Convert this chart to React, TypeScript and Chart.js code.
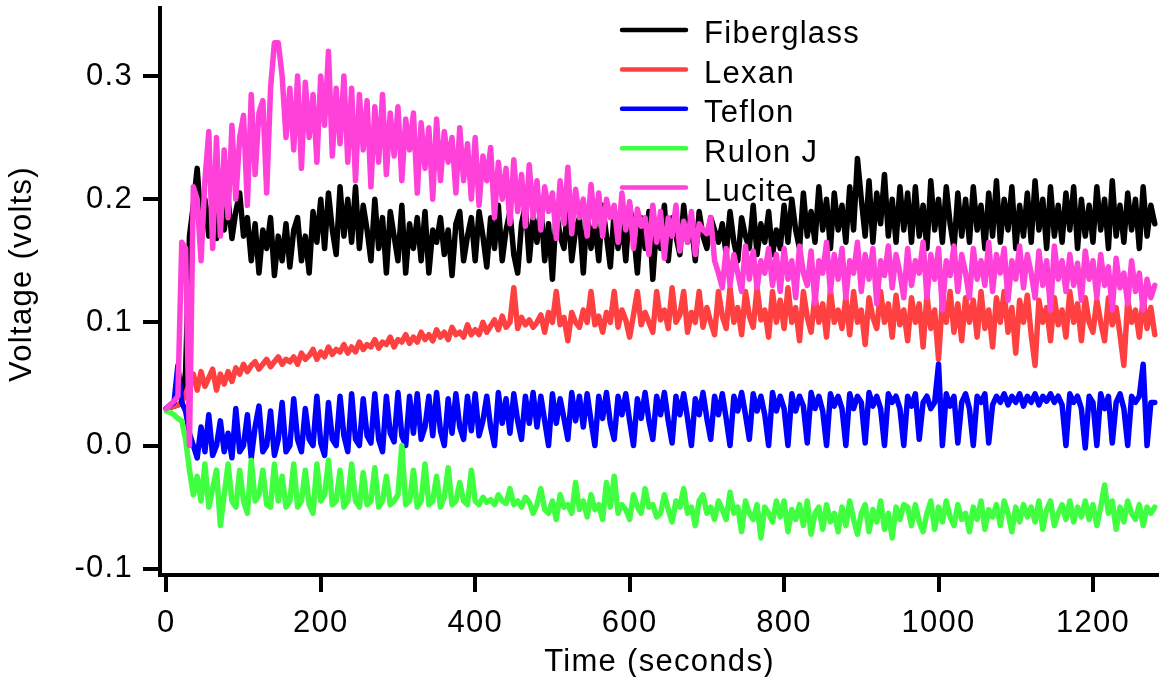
import React, { useEffect, useRef } from "react";
import { Chart, registerables } from "chart.js";

Chart.register(...registerables);

// Time samples (seconds), 16 per row
const TIME_S = [
  0, 5, 10, 15, 20, 25, 30, 35, 40, 45, 50, 55, 60, 65, 70, 75,
  80, 85, 90, 95, 100, 105, 110, 115, 120, 125, 130, 135, 140, 145, 150, 155,
  160, 165, 170, 175, 180, 185, 190, 195, 200, 205, 210, 215, 220, 225, 230, 235,
  240, 245, 250, 255, 260, 265, 270, 275, 280, 285, 290, 295, 300, 305, 310, 315,
  320, 325, 330, 335, 340, 345, 350, 355, 360, 365, 370, 375, 380, 385, 390, 395,
  400, 405, 410, 415, 420, 425, 430, 435, 440, 445, 450, 455, 460, 465, 470, 475,
  480, 485, 490, 495, 500, 505, 510, 515, 520, 525, 530, 535, 540, 545, 550, 555,
  560, 565, 570, 575, 580, 585, 590, 595, 600, 605, 610, 615, 620, 625, 630, 635,
  640, 645, 650, 655, 660, 665, 670, 675, 680, 685, 690, 695, 700, 705, 710, 715,
  720, 725, 730, 735, 740, 745, 750, 755, 760, 765, 770, 775, 780, 785, 790, 795,
  800, 805, 810, 815, 820, 825, 830, 835, 840, 845, 850, 855, 860, 865, 870, 875,
  880, 885, 890, 895, 900, 905, 910, 915, 920, 925, 930, 935, 940, 945, 950, 955,
  960, 965, 970, 975, 980, 985, 990, 995, 1000, 1005, 1010, 1015, 1020, 1025, 1030, 1035,
  1040, 1045, 1050, 1055, 1060, 1065, 1070, 1075, 1080, 1085, 1090, 1095, 1100, 1105, 1110, 1115,
  1120, 1125, 1130, 1135, 1140, 1145, 1150, 1155, 1160, 1165, 1170, 1175, 1180, 1185, 1190, 1195,
  1200, 1205, 1210, 1215, 1220, 1225, 1230, 1235, 1240, 1245, 1250, 1255, 1260, 1265, 1270, 1275,
  1280,
];

// Series values in millivolts
const FIBERGLASS_MV = [
  30, 31, 32, 33, 34, 60, 170, 195, 225, 180, 200, 170, 205, 168, 195, 175,
  200, 168, 190, 205, 170, 185, 150, 180, 140, 175, 160, 185, 138, 170, 150, 180,
  145, 175, 185, 150, 170, 140, 190, 165, 200, 160, 205, 175, 155, 210, 170, 200,
  165, 210, 160, 195, 175, 150, 200, 160, 185, 140, 190, 170, 150, 195, 140, 180,
  160, 185, 150, 190, 140, 175, 165, 185, 155, 175, 138, 180, 190, 150, 170, 185,
  150, 190, 170, 145, 185, 160, 195, 150, 175, 190, 155, 140, 180, 195, 150, 185,
  165, 195, 150, 180, 135, 190, 170, 160, 195, 150, 175, 185, 140, 190, 160, 180,
  150, 195, 170, 145, 190, 160, 185, 150, 195, 175, 140, 185, 160, 190, 135, 180,
  160, 195, 150, 185, 170, 155, 195, 165, 180, 150, 190, 170, 160, 185, 175, 165,
  180, 155, 190, 165, 150, 185, 170, 160, 195, 155, 180, 165, 190, 155, 175, 160,
  195, 165, 200, 175, 160, 205, 170, 190, 165, 210, 175, 200, 160, 205, 175, 195,
  165, 210, 175, 233, 200, 170, 215, 165, 205, 180, 220, 170, 200, 165, 210, 175,
  205, 165, 210, 170, 195, 160, 215, 175, 200, 165, 210, 180, 160, 205, 170, 200,
  165, 210, 175, 195, 160, 205, 170, 215, 165, 200, 175, 210, 160, 195, 170, 205,
  165, 215, 175, 200, 160, 210, 170, 195, 165, 205, 175, 210, 160, 200, 170, 195,
  165, 210, 175, 200, 160, 215, 170, 195, 165, 205, 175, 200, 160, 210, 170, 195,
  180,
];

const LEXAN_MV = [
  30, 31, 32, 33, 35, 42, 50, 58, 45, 60, 48, 55, 62, 45, 58, 50,
  60, 52, 63, 58, 66, 60, 65, 68, 62, 66, 70, 64, 68, 72, 66, 70,
  68, 72, 66, 75, 70, 73, 78, 70, 76, 72, 80, 74, 78, 76, 82, 75,
  80, 76, 84, 78, 82, 80, 86, 79, 84, 82, 88, 80, 86, 84, 90, 83,
  88, 84, 92, 86, 90, 85, 94, 88, 92, 86, 96, 90, 92, 88, 98, 90,
  94, 90, 100, 92, 97, 102, 94, 105, 96, 100, 128, 95, 104, 98, 102, 96,
  100, 106, 92, 108, 100, 125, 98, 104, 85, 108, 100, 96, 110, 100, 125, 98,
  105, 92, 108, 100, 125, 96, 110, 102, 88, 106, 125, 98, 108, 100, 92, 125,
  102, 110, 95, 128, 100, 106, 125, 92, 108, 100, 125, 96, 112, 100, 90, 125,
  105, 95, 128, 100, 112, 90, 125, 105, 96, 128, 102, 110, 88, 125, 100, 118,
  95, 128, 100, 112, 85, 125, 104, 92, 122, 100, 115, 88, 126, 100, 110, 95,
  120, 90, 125, 100, 110, 82, 120, 104, 95, 125, 100, 115, 88, 122, 98, 110,
  85, 120, 100, 115, 80, 122, 95, 110, 70, 118, 100, 125, 92, 115, 85, 120,
  100, 118, 88, 125, 95, 110, 80, 120, 100, 125, 92, 112, 75, 118, 100, 122,
  90, 65, 118, 100, 112, 85, 120, 98, 110, 88, 125, 100, 115, 85, 120, 100,
  92, 118, 100, 85, 120, 98, 112, 90, 65, 118, 100, 110, 88, 120, 95, 112,
  90,
];

const TEFLON_MV = [
  30, 33, 35, 65, 35, 28, 10, 0, -10, 15, -5, 25, -8, 0, 20, -5,
  10, -10, 30, -5, 0, 25, -10, 15, 32, -5, 0, 28, -8, 5, 35, -5,
  0, 38, 5, -5, 30, 5, 0, 40, 2, -8, 35, 5, 0, 40, 8, -5,
  42, 5, 0, 38, 8, 2, 42, 5, -5, 40, 10, 3, 43, 8, 0, 40,
  10, 42, 5, 15, 40, 8, 43, 12, 0, 38, 10, 42, 15, 5, 40, 12,
  42, 8, 20, 40, 15, 0, 43, 18, 38, 10, 42, 20, 5, 40, 18, 43,
  15, 40, 20, 0, 42, 18, 38, 22, 5, 43, 20, 40, 15, 42, 20, 0,
  40, 22, 43, 18, 5, 40, 25, 42, 20, 0, 38, 22, 43, 20, 5, 40,
  25, 43, 20, 2, 40, 25, 42, 22, 0, 38, 25, 43, 22, 5, 40, 25,
  42, 22, 0, 40, 28, 43, 25, 5, 42, 28, 40, 25, 0, 43, 28, 40,
  30, 0, 42, 28, 40, 32, 2, 43, 30, 40, 28, 0, 42, 32, 40, 30,
  0, 42, 30, 40, 35, 2, 43, 32, 40, 30, 0, 42, 35, 40, 30, 0,
  40, 32, 42, 5, 35, 40, 30, 35, 66, 0, 42, 32, 40, 2, 35, 42,
  30, 0, 40, 35, 42, 2, 33, 40, 35, 42, 33, 40, 35, 42, 32, 40,
  35, 42, 33, 40, 36, 42, 35, 40, 33, 0, 42, 35, 40, 30, -2, 40,
  35, 0, 42, 30, 40, 2, 35, 42, 30, 0, 40, 35, 40, 66, 0, 35,
  35,
];

const RULON_J_MV = [
  28, 27, 25, 22, 20, 5, -20, -40, -25, -45, -15, -50, -35, -20, -65, -40,
  -15, -45, -50, -20, -45, -55, -12, -45, -40, -20, -48, -50, -15, -45, -25, -50,
  -45, -15, -50, -45, -20, -48, -55, -15, -45, -40, -12, -48, -45, -20, -50, -45,
  -15, -45, -50, -22, -48, -45, -18, -50, -45, -25, -48, -45, -40, 0, -48, -45,
  -20, -50, -45, -15, -48, -45, -25, -50, -42, -18, -48, -45, -30, -45, -48, -20,
  -45, -48, -42, -46, -44, -48, -40, -45, -47, -35, -48, -45, -50, -42, -46, -55,
  -48, -35, -52, -55, -45, -60, -40, -50, -48, -55, -30, -52, -45, -58, -40, -52,
  -48, -60, -30, -50, -25, -55, -48, -52, -60, -40, -50, -55, -35, -50, -48, -58,
  -55, -40, -52, -62, -45, -50, -35, -55, -50, -65, -45, -40, -55, -50, -60, -45,
  -52, -60, -38, -55, -50, -70, -45, -55, -60, -48, -75, -50, -55, -62, -45, -58,
  -45, -70, -52, -60, -48, -65, -45, -72, -55, -50, -68, -48, -62, -55, -70, -50,
  -65, -45, -60, -72, -55, -48, -70, -52, -62, -45, -68, -55, -75, -50, -60, -48,
  -50, -65, -48, -62, -70, -55, -45, -68, -50, -62, -45, -58, -65, -48, -60, -55,
  -70, -50, -60, -45, -68, -52, -58, -48, -65, -45, -55, -70, -50, -62, -48, -58,
  -50, -62, -45, -68, -52, -45, -65, -55, -48, -60, -45, -62, -50, -58, -45, -60,
  -48, -65, -50, -32, -55, -45, -68, -50, -62, -45, -55, -60, -48, -65, -50, -55,
  -50,
];

const LUCITE_MV = [
  30, 33, 36, 40, 165, 160, 0, 210, 200, 150, 215, 255, 160, 250, 170, 240,
  185, 260, 200, 250, 268, 195, 285, 220, 270, 280, 205, 290, 327, 327, 300, 250,
  290, 240, 300, 225, 295, 250, 285, 230, 300, 260, 320, 235, 290, 245, 300, 230,
  290, 215, 285, 240, 280, 210, 275, 230, 285, 220, 270, 235, 275, 215, 265, 240,
  270, 205, 262, 225, 258, 200, 265, 215, 255, 230, 250, 205, 258, 215, 245, 200,
  250, 195, 235, 215, 242, 185, 230, 200, 225, 180, 232, 190, 220, 178, 228, 185,
  215, 175, 210, 190, 205, 168, 215, 180, 226, 172, 208, 185, 200, 170, 212, 178,
  205, 170, 200, 185, 195, 165, 205, 175, 198, 160, 192, 178, 185, 155, 195, 165,
  190, 152, 185, 170, 195, 158, 182, 165, 190, 155, 180, 175, 172, 185, 150, 140,
  128, 160, 130, 155, 140, 125, 162, 135, 158, 128, 150, 140, 160, 130, 155, 125,
  160, 135, 150, 120, 162, 140, 130, 158, 115, 150, 140, 165, 125, 155, 135, 160,
  120, 150, 140, 165, 125, 155, 135, 160, 115, 150, 138, 162, 128, 155, 140, 120,
  160, 130, 150, 140, 165, 120, 155, 135, 160, 110, 150, 138, 162, 125, 155, 140,
  120, 160, 135, 150, 130, 165, 125, 155, 140, 160, 118, 150, 135, 162, 128, 155,
  140, 120, 158, 130, 150, 110, 162, 135, 150, 125, 155, 130, 148, 118, 158, 135,
  150, 120, 155, 130, 145, 110, 152, 128, 140, 115, 150, 125, 140, 110, 135, 120,
  130,
];

const SERIES_NAMES = ["Fiberglass", "Lexan", "Teflon", "Rulon J", "Lucite"];
const SERIES_VALUES = [FIBERGLASS_MV, LEXAN_MV, TEFLON_MV, RULON_J_MV, LUCITE_MV];
const SERIES_COLORS = ["#000000", "#FF4040", "#0000FF", "#40FF40", "#FF40D9"];

const Y_TICKS = [-0.1, 0.0, 0.1, 0.2, 0.3];
const X_TICKS = [0, 200, 400, 600, 800, 1000, 1200];
const X_TITLE = "Time (seconds)";
const Y_TITLE = "Voltage (volts)";

const FONT_FAMILY = '"Liberation Sans", Arial, Helvetica, sans-serif';
const FONT_SIZE = 31;
const LETTER_SPACING = "1.3px";

const W = 1159;
const H = 677;

const overlayPlugin = {
  id: "overlay",
  beforeDraw(chart: any) {
    (chart.ctx as any).letterSpacing = LETTER_SPACING;
  },
  afterDraw(chart: any) {
    const ctx = chart.ctx;
    ctx.save();
    (ctx as any).letterSpacing = LETTER_SPACING;
    ctx.font = `${FONT_SIZE}px ${FONT_FAMILY}`;
    ctx.fillStyle = "#000000";
    // legend inside the plot
    SERIES_NAMES.forEach((name, i) => {
      const y = 30 + i * 39.4;
      ctx.strokeStyle = SERIES_COLORS[i];
      ctx.lineWidth = 4.5;
      ctx.lineCap = "round";
      ctx.beginPath();
      ctx.moveTo(622, y);
      ctx.lineTo(686, y);
      ctx.stroke();
      ctx.textAlign = "left";
      ctx.textBaseline = "alphabetic";
      ctx.fillText(name, 704, y + 13.4);
    });
    // y-axis title
    ctx.translate(31, 274);
    ctx.rotate(-Math.PI / 2);
    ctx.textAlign = "center";
    ctx.textBaseline = "alphabetic";
    ctx.fillText(Y_TITLE, 0, 0);
    ctx.restore();
  },
};

export default function App() {
  const canvasRef = useRef<HTMLCanvasElement | null>(null);

  useEffect(() => {
    const canvas = canvasRef.current;
    if (!canvas) return;

    const datasets = SERIES_NAMES.map((name, si) => ({
      label: name,
      data: TIME_S.map((t, i) => ({ x: t, y: SERIES_VALUES[si][i] / 1000 })),
      borderColor: SERIES_COLORS[si],
      backgroundColor: SERIES_COLORS[si],
      borderWidth: 5.5,
      pointRadius: 0,
      tension: 0,
      fill: false,
      borderJoinStyle: "round" as const,
      borderCapStyle: "round" as const,
      order: SERIES_NAMES.length - si,
    }));

    const tickFont = { family: FONT_FAMILY, size: FONT_SIZE, lineHeight: 1.2 };

    const chart = new Chart(canvas, {
      type: "line",
      data: { datasets },
      plugins: [overlayPlugin],
      options: {
        animation: false,
        responsive: false,
        maintainAspectRatio: false,
        layout: { padding: { top: 8, left: 0, right: 0, bottom: 0 } },
        plugins: {
          legend: { display: false },
          tooltip: { enabled: false },
          title: { display: false },
        },
        scales: {
          x: {
            type: "linear",
            min: -8.16,
            max: 1285.5,
            afterBuildTicks: (scale: any) => {
              scale.ticks = X_TICKS.map((v) => ({ value: v }));
            },
            afterFit: (scale: any) => {
              scale.height = H - 575;
              scale.paddingLeft = 0;
              scale.paddingRight = 0;
            },
            ticks: {
              autoSkip: false,
              maxRotation: 0,
              minRotation: 0,
              color: "#000000",
              font: tickFont,
              padding: 12.4,
              callback: (v: any) => String(v),
            },
            grid: {
              display: true,
              drawOnChartArea: false,
              drawTicks: true,
              tickLength: 17,
              tickWidth: 4,
              tickColor: "#000000",
              lineWidth: 4,
              color: "#000000",
            },
            border: { display: true, width: 4, color: "#000000" },
            title: {
              display: true,
              text: X_TITLE,
              color: "#000000",
              font: { family: FONT_FAMILY, size: FONT_SIZE, lineHeight: 0.93 },
              padding: 0,
            },
          },
          y: {
            type: "linear",
            min: -0.10511,
            max: 0.35519,
            afterBuildTicks: (scale: any) => {
              scale.ticks = Y_TICKS.map((v) => ({ value: v }));
            },
            afterFit: (scale: any) => {
              scale.width = 160;
              scale.paddingTop = 0;
              scale.paddingBottom = 0;
            },
            ticks: {
              color: "#000000",
              font: tickFont,
              padding: 10,
              callback: (v: any) => Number(v).toFixed(1),
            },
            grid: {
              display: true,
              drawOnChartArea: false,
              drawTicks: true,
              tickLength: 17,
              tickWidth: 4,
              tickColor: "#000000",
              lineWidth: 4,
              color: "#000000",
            },
            border: { display: true, width: 4, color: "#000000" },
            title: { display: false },
          },
        },
      },
    } as any);

    return () => {
      chart.destroy();
    };
  }, []);

  return (
    <div
      style={{
        position: "fixed",
        left: 0,
        top: 0,
        width: W,
        height: H,
        background: "#ffffff",
      }}
    >
      <canvas
        ref={canvasRef}
        width={W}
        height={H}
        style={{ display: "block", width: W, height: H }}
      />
    </div>
  );
}
